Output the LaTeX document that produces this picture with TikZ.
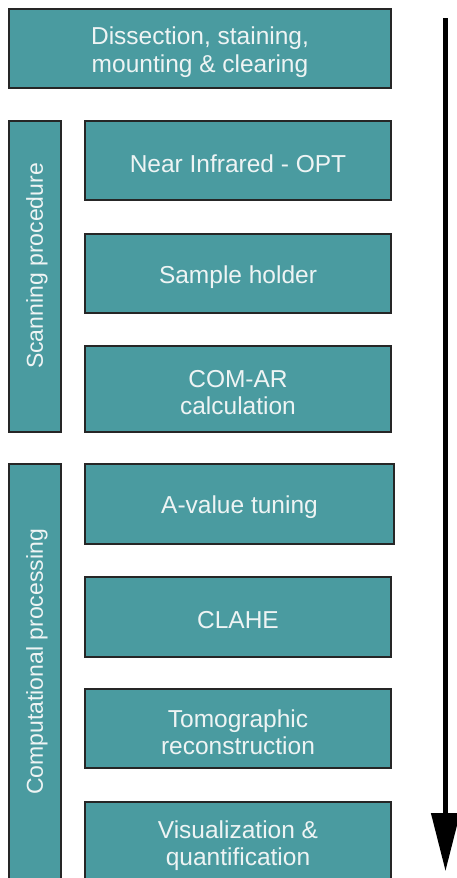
\documentclass[tikz,border=0pt]{standalone}
\usepackage{fontspec}
\setmainfont{Liberation Sans}
\usetikzlibrary{arrows.meta}
\definecolor{teal1}{HTML}{4A9BA0}
\definecolor{txt}{HTML}{EEF4F4}
\begin{document}
\begin{tikzpicture}[x=1pt,y=-1pt,
  boxstyle/.style={draw=black!85,line width=1.4pt,fill=teal1,inner sep=0pt,
    label={[text=txt,font=\fontsize{24.5}{27.5}\selectfont,align=center,yshift=-3.5pt]center:#1}},
  boxstyle/.default={},
  sidelabel/.style={rotate=90,text=txt,font=\fontsize{23}{26}\selectfont,inner sep=0pt}]
\useasboundingbox (0,0) rectangle (456,878);
\fill[white] (0,0) rectangle (456,878);
\node[boxstyle={Dissection, staining,\\mounting \& clearing},minimum width=382,minimum height=79] (dis) at (200,48.5) {};
\node[boxstyle,minimum width=52,minimum height=311] (scan) at (35,276.5) {};
\node[sidelabel] (scanl) at (37,266) {Scanning procedure};
\node[boxstyle={Near Infrared - OPT},minimum width=306,minimum height=79] (nir) at (238,160.5) {};
\node[boxstyle={Sample holder},minimum width=306,minimum height=79] (sh) at (238,273.5) {};
\node[boxstyle={COM-AR\\calculation},minimum width=306,minimum height=86] (com) at (238,389) {};
\node[boxstyle,minimum width=52,minimum height=424] (cp) at (35,676) {};
\node[sidelabel] (cpl) at (37,662) {Computational processing};
\node[boxstyle={A-value tuning},minimum width=309,minimum height=80] (av) at (239.5,504) {};
\node[boxstyle={CLAHE},minimum width=306,minimum height=80] (cl) at (238,617) {};
\node[boxstyle={Tomographic\\reconstruction},minimum width=306,minimum height=79] (tr) at (238,728.5) {};
\node[boxstyle={Visualization \&\\quantification},minimum width=306,minimum height=80] (vq) at (238,842) {};
\coordinate (a1) at (445.5,18);
\coordinate (a2) at (445.5,871);
\draw[line width=4.5pt,-{Triangle[width=28pt,length=58pt]}] (a1) -- (a2);
\end{tikzpicture}
\end{document}
